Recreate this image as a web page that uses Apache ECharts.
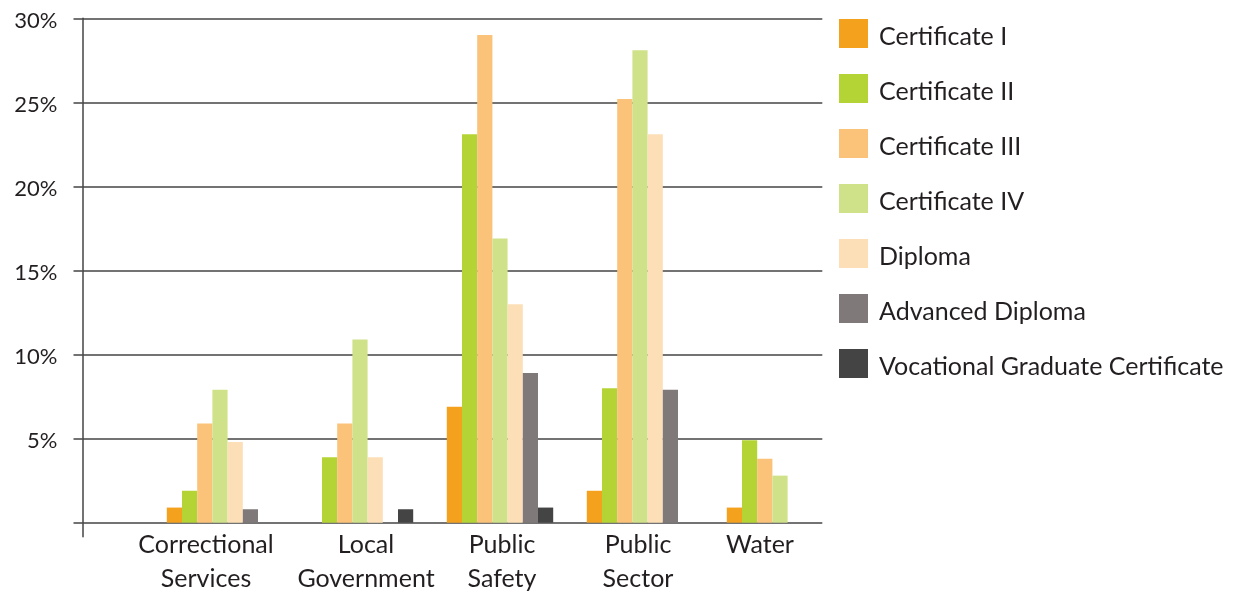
<!DOCTYPE html>
<html>
<head>
<meta charset="utf-8">
<script src="https://cdn.jsdelivr.net/npm/echarts@6/dist/echarts.min.js"></script>
<style>
  html, body { margin: 0; padding: 0; background: #ffffff; }
  #chart { width: 1237px; height: 592px; }
</style>
</head>
<body>
<div id="chart"></div>
<script>
// Share of enrolments by qualification level, per industry sector (%)
const categories = ['Correctional Services', 'Local Government', 'Public Safety', 'Public Sector', 'Water'];
const seriesNames = ['Certificate I', 'Certificate II', 'Certificate III', 'Certificate IV',
  'Diploma', 'Advanced Diploma', 'Vocational Graduate Certificate'];

const certificateI = [0.9, 0, 6.9, 1.9, 0.9];
const certificateII = [1.9, 3.9, 23.1, 8.0, 4.9];
const certificateIII = [5.9, 5.9, 29.0, 25.2, 3.8];
const certificateIV = [7.9, 10.9, 16.9, 28.1, 2.8];
const diploma = [4.8, 3.9, 13.0, 23.1, 0];
const advancedDiploma = [0.8, 0, 8.9, 7.9, 0];
const vocationalGraduateCertificate = [0, 0.8, 0.9, 0, 0];

const yTickValues = [0, 5, 10, 15, 20, 25, 30];
const yLabelValues = [5, 10, 15, 20, 25, 30];

const seriesValues = [certificateI, certificateII, certificateIII, certificateIV,
  diploma, advancedDiploma, vocationalGraduateCertificate];
const seriesColors = ['#F4A11E', '#B4D334', '#FBC37A', '#D0E289', '#FCDFB7', '#7F7A79', '#444444'];

const FONT = 'Lato';
const INK = '#231F20';
const RULE = '#444444';

// horizontal nudges for the sector names under each bar group
const labelPadding = [[0, 28, 0, 0], [0, 0, 0, 12], [0, 0, 0, 4], [0, 4, 0, 0], [0, 40, 0, 0]];
const richStyles = {};
labelPadding.forEach((p, i) => {
  richStyles['c' + i] = { fontFamily: FONT, fontSize: 25, color: INK, lineHeight: 34, padding: p };
});

// the framing axis runs a little below zero so the vertical rule passes the baseline
const FRAME_MIN = -0.83, Y_MAX = 30;

const chart = echarts.init(document.getElementById('chart'), null, { renderer: 'canvas' });

chart.setOption({
  animation: false,
  backgroundColor: '#ffffff',
  grid: [
    // frame: value rules and the vertical axis
    { left: 82.5, width: 739.8, top: 18.3, height: 518.4, outerBoundsMode: 'none', containLabel: false },
    // bar groups, bottom edge on the zero line
    { left: 150, width: 700, top: 18.3, height: 504.4, outerBoundsMode: 'none', containLabel: false }
  ],
  xAxis: [
    { type: 'category', gridIndex: 0, data: categories, show: false },
    {
      type: 'category', gridIndex: 1, data: categories,
      axisLine: { show: false },
      axisTick: { show: false },
      axisLabel: {
        interval: 0,
        margin: 5,
        fontFamily: FONT, fontSize: 25, color: INK, lineHeight: 34,
        formatter: (value, index) => value.split(' ').map(w => '{c' + index + '|' + w + '}').join('\n'),
        rich: richStyles
      }
    }
  ],
  yAxis: [
    {
      type: 'value', gridIndex: 0, min: FRAME_MIN, max: Y_MAX,
      axisLine: { show: true, lineStyle: { color: RULE, width: 1.5 } },
      axisTick: { show: true, length: 9, customValues: yTickValues, lineStyle: { color: RULE, width: 1.5 } },
      axisLabel: {
        customValues: yLabelValues,
        formatter: (v) => '{v|' + v + '%}',
        margin: 25,
        fontFamily: FONT, fontSize: 22, color: INK,
        rich: { v: { fontFamily: FONT, fontSize: 22, color: INK, lineHeight: 24, padding: [5, 0, 0, 0] } }
      },
      splitLine: { show: true, lineStyle: { color: RULE, width: 1.5 } }
    },
    { type: 'value', gridIndex: 1, min: 0, max: Y_MAX, show: false, splitLine: { show: false } }
  ],
  legend: {
    orient: 'vertical',
    left: 839, top: 18,
    padding: 0,
    itemWidth: 29, itemHeight: 29, itemGap: 24,
    icon: 'rect',
    formatter: (name) => '{n|' + name + '}',
    textStyle: {
      fontFamily: FONT, fontSize: 25, color: INK,
      rich: { n: { fontFamily: FONT, fontSize: 25, color: INK, lineHeight: 23, padding: [6, 0, 0, 6] } }
    },
    data: seriesNames
  },
  series: seriesNames.map((name, i) => ({
    name,
    type: 'bar',
    xAxisIndex: 1, yAxisIndex: 1,
    barWidth: 15.2,
    barGap: '0%',
    itemStyle: { color: seriesColors[i] },
    data: seriesValues[i]
  }))
});
</script>
</body>
</html>
